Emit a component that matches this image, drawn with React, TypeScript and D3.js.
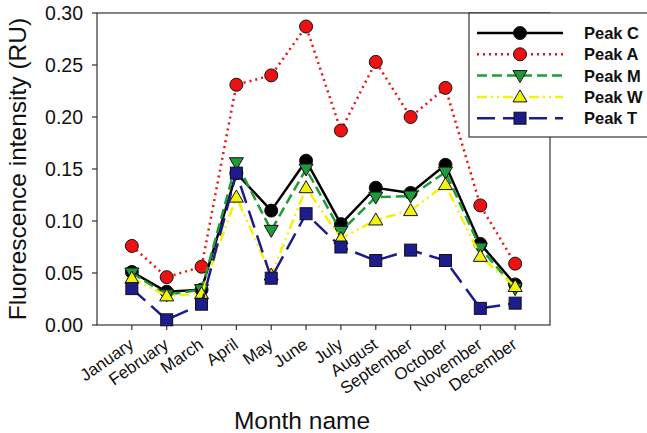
import React from "react";
import * as d3 from "d3";

const months = ["January","February","March","April","May","June","July","August","September","October","November","December"];
const peakC = [0.051,0.032,0.034,0.146,0.110,0.158,0.097,0.132,0.127,0.154,0.078,0.039];
const peakA = [0.076,0.046,0.056,0.231,0.240,0.287,0.187,0.253,0.200,0.228,0.115,0.059];
const peakM = [0.050,0.029,0.034,0.156,0.091,0.150,0.090,0.123,0.124,0.147,0.074,0.035];
const peakW = [0.045,0.028,0.030,0.123,0.048,0.132,0.083,0.101,0.110,0.135,0.066,0.037];
const peakT = [0.035,0.005,0.020,0.146,0.045,0.107,0.075,0.062,0.072,0.062,0.016,0.021];
const yTicks = [0, 0.05, 0.1, 0.15, 0.2, 0.25, 0.3];

const series = [
  { name: "Peak C", values: peakC, color: "#000000", fill: "#000000", dash: "", shape: "circle" },
  { name: "Peak A", values: peakA, color: "#ee1111", fill: "#ee1111", dash: "2,4", shape: "circle" },
  { name: "Peak M", values: peakM, color: "#1f9a3a", fill: "#1f9a3a", dash: "10,5", shape: "down" },
  { name: "Peak W", values: peakW, color: "#f2f20a", fill: "#f2f20a", dash: "10,4,2,4,2,4", shape: "up" },
  { name: "Peak T", values: peakT, color: "#1c1c8c", fill: "#1c1c8c", dash: "18,8", shape: "square" },
];

const L = 97, R = 550, T = 13, B = 325;

function Marker({ shape, x, y, fill }: any) {
  const stroke = "#111";
  if (shape === "circle") return <circle cx={x} cy={y} r={6.5} fill={fill} stroke={stroke} strokeWidth={1} />;
  if (shape === "square") return <rect x={x - 6} y={y - 6} width={12} height={12} fill={fill} stroke={stroke} strokeWidth={1} />;
  if (shape === "down") return <path d={`M${x - 7},${y - 5}L${x + 7},${y - 5}L${x},${y + 7}Z`} fill={fill} stroke={stroke} strokeWidth={1} />;
  return <path d={`M${x - 7},${y + 5}L${x + 7},${y + 5}L${x},${y - 7}Z`} fill={fill} stroke={stroke} strokeWidth={1} />;
}

export default function App() {
  const x = d3.scalePoint<string>().domain(months).range([L, R]).padding(1);
  const y = d3.scaleLinear().domain([0, 0.3]).range([B, T]);
  const line = d3.line<number>().x((_, i) => x(months[i]) as number).y((d) => y(d));
  const font = "Arial, 'Liberation Sans', sans-serif";
  return (
    <svg width={647} height={433} style={{ position: "absolute", left: 0, top: 0, background: "#fff" }} fontFamily={font}>
      <rect x={0} y={0} width={647} height={433} fill="#fff" />
      <rect x={L} y={T} width={R - L} height={B - T} fill="none" stroke="#333" strokeWidth={1.2} />
      {yTicks.map((t) => (
        <g key={t}>
          <line x1={L} x2={L - 5} y1={y(t)} y2={y(t)} stroke="#333" strokeWidth={1.2} />
          <text x={L - 14} y={y(t)} dy="0.36em" textAnchor="end" fontSize={19.5} fill="#111">{t.toFixed(2)}</text>
        </g>
      ))}
      {months.map((m) => (
        <g key={m}>
          <line x1={x(m)} x2={x(m)} y1={B} y2={B + 5} stroke="#333" strokeWidth={1.2} />
          <text transform={`translate(${(x(m) as number) + 3},${B + 22}) rotate(-35)`} textAnchor="end" fontSize={17} fill="#111">{m}</text>
        </g>
      ))}
      <text transform={`translate(26,${(T + B) / 2}) rotate(-90)`} textAnchor="middle" fontSize={24.5} fill="#111">Fluorescence intensity (RU)</text>
      <text x={302} y={429} textAnchor="middle" fontSize={24.5} fill="#111">Month name</text>
      {series.map((s) => (
        <g key={s.name}>
          <path d={line(s.values) as string} fill="none" stroke={s.color} strokeWidth={2.5} strokeDasharray={s.dash} />
          {s.values.map((v, i) => (
            <Marker key={i} shape={s.shape} x={x(months[i])} y={y(v)} fill={s.fill} />
          ))}
        </g>
      ))}
      <rect x={469} y={13} width={185} height={124} fill="#fff" stroke="#333" strokeWidth={1.2} />
      {series.map((s, i) => {
        const ly = 33 + i * 21.3;
        return (
          <g key={s.name}>
            <line x1={477} x2={563} y1={ly} y2={ly} stroke={s.color} strokeWidth={2.5} strokeDasharray={s.dash} />
            <Marker shape={s.shape} x={520} y={ly} fill={s.fill} />
            <text x={584} y={ly} dy="0.36em" fontSize={16.5} fontWeight="bold" fill="#111">{s.name}</text>
          </g>
        );
      })}
    </svg>
  );
}
